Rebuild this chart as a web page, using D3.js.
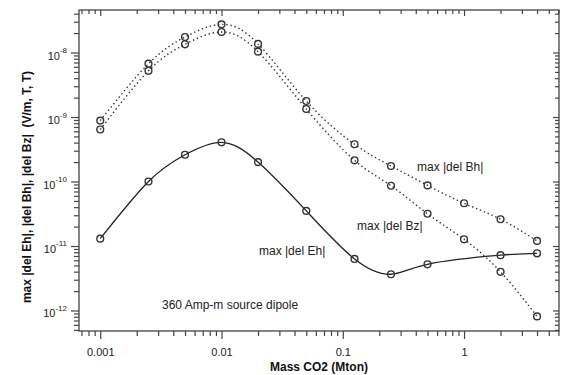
<!DOCTYPE html>
<html>
<head>
<meta charset="utf-8">
<script src="https://cdn.jsdelivr.net/npm/d3@7"></script>
<style>
  html, body { margin: 0; padding: 0; background: #fff; }
  svg { display: block; font-family: "Liberation Sans", Arial, Helvetica, sans-serif; }
</style>
</head>
<body>
<svg id="chart" width="561" height="375"></svg>
<script>
// Mass of CO2 (Mton) at which the fields were computed
const massB = [0.001, 0.0025, 0.005, 0.01, 0.02, 0.05, 0.125, 0.25, 0.5, 1, 2, 4];
const massEh = [0.001, 0.0025, 0.005, 0.01, 0.02, 0.05, 0.125, 0.25, 0.5, 2, 4];

// Maximum field perturbations
const delBh = [8.8e-10, 6.7e-9, 1.74e-8, 2.73e-8, 1.36e-8, 1.77e-9, 3.78e-10, 1.74e-10, 8.7e-11, 4.6e-11, 2.6e-11, 1.2e-11];
const delBz = [6.4e-10, 5.2e-9, 1.34e-8, 2.08e-8, 1.03e-8, 1.33e-9, 2.13e-10, 8.6e-11, 3.16e-11, 1.27e-11, 3.98e-12, 8.1e-13];
const delEh = [1.3e-11, 1.0e-10, 2.6e-10, 4.05e-10, 2.0e-10, 3.5e-11, 6.3e-12, 3.65e-12, 5.2e-12, 7.2e-12, 7.7e-12];

// Axis ticks
const xMajor = [0.001, 0.01, 0.1, 1];
const xTickLabels = ["0.001", "0.01", "0.1", "1"];
const yMajor = [1e-8, 1e-9, 1e-10, 1e-11, 1e-12];
const yTickExponents = ["-8", "-9", "-10", "-11", "-12"];

const xDomain = [6.68e-4, 6.07];
const yDomain = [4.81e-13, 4.56e-8];

const svg = d3.select("#chart");
const L = 79, R = 559, T = 10, B = 331;

const x = d3.scaleLog().domain(xDomain).range([L, R]);
const y = d3.scaleLog().domain(yDomain).range([B, T]);

function minorTicks(domain) {
  const out = [];
  const lo = Math.floor(Math.log10(domain[0])), hi = Math.ceil(Math.log10(domain[1]));
  for (let e = lo; e <= hi; e++) {
    for (let m = 2; m <= 9; m++) {
      const v = m * Math.pow(10, e);
      if (v >= domain[0] && v <= domain[1]) out.push(v);
    }
  }
  return out;
}
const xMinor = minorTicks(xDomain);
const yMinor = minorTicks(yDomain);

const axisColor = "#444";

function styleAxis(g) {
  g.select(".domain").remove();
  g.selectAll(".tick line").attr("stroke", axisColor).attr("stroke-width", 1.2);
}

// bottom axis (outward ticks)
svg.append("g").attr("transform", `translate(0,${B})`)
  .call(d3.axisBottom(x).tickValues(xMajor).tickSize(8).tickPadding(9)
    .tickFormat((d, i) => xTickLabels[i]))
  .call(styleAxis)
  .call(g => g.selectAll("text").attr("font-size", 11).attr("fill", "#222")
    .attr("font-family", "Liberation Sans, Arial, sans-serif"));
svg.append("g").attr("transform", `translate(0,${B})`)
  .call(d3.axisBottom(x).tickValues(xMinor).tickSize(5).tickFormat(""))
  .call(styleAxis);

// top axis (inward ticks)
svg.append("g").attr("transform", `translate(0,${T})`)
  .call(d3.axisBottom(x).tickValues(xMajor).tickSize(6).tickFormat(""))
  .call(styleAxis);
svg.append("g").attr("transform", `translate(0,${T})`)
  .call(d3.axisBottom(x).tickValues(xMinor).tickSize(4).tickFormat(""))
  .call(styleAxis);

// left axis (outward ticks) with power-of-ten labels
svg.append("g").attr("transform", `translate(${L},0)`)
  .call(d3.axisLeft(y).tickValues(yMajor).tickSize(8).tickPadding(4).tickFormat(""))
  .call(styleAxis)
  .call(g => g.selectAll(".tick").each(function (d, i) {
    const t = d3.select(this).append("text")
      .attr("x", -12).attr("y", 6.5)
      .attr("text-anchor", "end")
      .attr("fill", "#222").attr("font-size", 11);
    t.append("tspan").text("10");
    t.append("tspan").attr("font-size", 8).attr("dy", -6.5).text(yTickExponents[i]);
  }));
svg.append("g").attr("transform", `translate(${L},0)`)
  .call(d3.axisLeft(y).tickValues(yMinor).tickSize(5).tickFormat(""))
  .call(styleAxis);

// right axis (inward ticks)
svg.append("g").attr("transform", `translate(${R},0)`)
  .call(d3.axisRight(y).tickValues(yMajor).tickSize(-6).tickFormat(""))
  .call(styleAxis);
svg.append("g").attr("transform", `translate(${R},0)`)
  .call(d3.axisRight(y).tickValues(yMinor).tickSize(-4).tickFormat(""))
  .call(styleAxis);

// frame
svg.append("rect").attr("x", L).attr("y", T).attr("width", R - L).attr("height", B - T)
  .attr("fill", "none").attr("stroke", axisColor).attr("stroke-width", 1.3);

// curves
const line = d3.line().x(d => x(d[0])).y(d => y(d[1])).curve(d3.curveNatural);
const series = [
  { xs: massB, ys: delBh, dash: "1.4,2.8", width: 1.4, color: "#333" },
  { xs: massB, ys: delBz, dash: "1.4,2.8", width: 1.4, color: "#333" },
  { xs: massEh, ys: delEh, dash: null, width: 1.3, color: "#222" }
];
series.forEach(s => {
  const pts = s.xs.map((v, i) => [v, s.ys[i]]);
  const p = svg.append("path").datum(pts)
    .attr("d", line).attr("fill", "none")
    .attr("stroke", s.color).attr("stroke-width", s.width);
  if (s.dash) p.attr("stroke-dasharray", s.dash);
  svg.append("g").selectAll("circle").data(pts).join("circle")
    .attr("cx", d => x(d[0])).attr("cy", d => y(d[1])).attr("r", 3.4)
    .attr("fill", "none").attr("stroke", "#333").attr("stroke-width", 1.4);
});

// annotations
const notes = [
  { text: "max |del Bh|", x: 417, y: 171 },
  { text: "max |del Bz|", x: 357, y: 230 },
  { text: "max |del Eh|", x: 259, y: 255 },
  { text: "360 Amp-m source dipole", x: 162, y: 309 }
];
svg.append("g").selectAll("text").data(notes).join("text")
  .attr("x", d => d.x).attr("y", d => d.y)
  .attr("font-size", 12).attr("fill", "#222")
  .text(d => d.text);

// axis titles
svg.append("text").attr("x", (L + R) / 2).attr("y", 371)
  .attr("text-anchor", "middle").attr("font-size", 12).attr("font-weight", "bold")
  .attr("fill", "#111").text("Mass CO2 (Mton)");
svg.append("text").attr("transform", `translate(31,187) rotate(-90)`)
  .attr("text-anchor", "middle").attr("font-size", 12).attr("font-weight", "bold")
  .attr("fill", "#111").attr("xml:space", "preserve")
  .text("max |del Eh|, |del Bh|, |del Bz|  (V/m, T, T)");
</script>
</body>
</html>
